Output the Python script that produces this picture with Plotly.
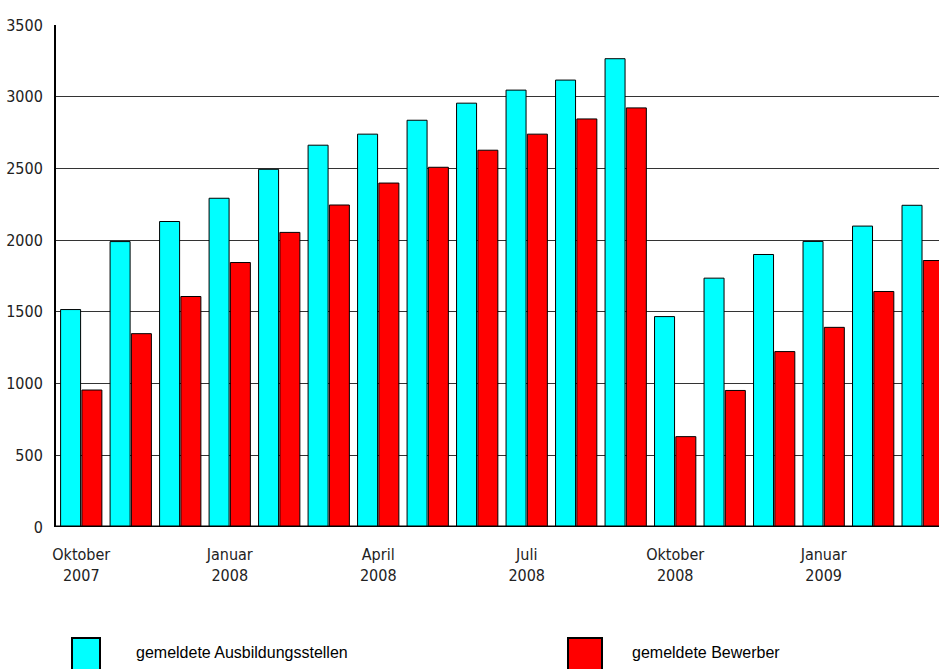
import plotly.graph_objects as go

months = ["Okt 2007", "Nov 2007", "Dez 2007", "Jan 2008", "Feb 2008", "Mär 2008",
          "Apr 2008", "Mai 2008", "Jun 2008", "Jul 2008", "Aug 2008", "Sep 2008",
          "Okt 2008", "Nov 2008", "Dez 2008", "Jan 2009", "Feb 2009", "Mär 2009"]
stellen = [1516, 1990, 2130, 2292, 2494, 2662, 2739, 2836, 2955, 3046, 3116, 3265,
           1467, 1735, 1900, 1991, 2098, 2243]
bewerber = [955, 1348, 1607, 1844, 2054, 2245, 2398, 2508, 2627, 2739, 2845, 2922,
            630, 952, 1223, 1392, 1642, 1858]
tick_idx = [0, 3, 6, 9, 12, 15]
tick_text = ["Oktober<br>2007", "Januar<br>2008", "April<br>2008", "Juli<br>2008",
             "Oktober<br>2008", "Januar<br>2009"]
name_stellen = "gemeldete Ausbildungsstellen"
name_bewerber = "gemeldete Bewerber"

x = list(range(len(months)))
narrow = "Liberation Sans Narrow, DejaVu Sans Condensed, Arial Narrow, sans-serif"

fig = go.Figure()
fig.add_trace(go.Bar(x=x, y=stellen, name=name_stellen, hovertext=months,
                     marker=dict(color="#00FFFF", line=dict(color="black", width=1))))
fig.add_trace(go.Bar(x=x, y=bewerber, name=name_bewerber, hovertext=months,
                     marker=dict(color="#FF0000", line=dict(color="black", width=1))))

W, H = 939, 669
L, R, T, B = 56, 0, 25, 142
pw = W - L - R
ph = H - T - B

fig.update_layout(
    width=W, height=H,
    margin=dict(l=L, r=R, t=T, b=B),
    paper_bgcolor="white", plot_bgcolor="white",
    barmode="group", bargap=0.14, bargroupgap=0.06,
    showlegend=False,
    font=dict(family=narrow, size=16, color="black"),
    xaxis=dict(range=[-0.51, 17.33], tickmode="array", tickvals=tick_idx,
               ticktext=tick_text, showgrid=False, zeroline=False,
               showline=False, ticks="outside", ticklen=13, tickcolor="white",
               tickfont=dict(family=narrow, size=16, color="#222222")),
    yaxis=dict(range=[0, 3500], dtick=500, showgrid=True, gridcolor="#333333",
               gridwidth=1, zeroline=False, showline=True, linecolor="black",
               linewidth=2, ticks="outside", ticklen=8, tickcolor="white",
               tickfont=dict(family=narrow, size=16, color="#222222")),
)
# bottom axis line
fig.add_shape(type="line", xref="paper", yref="y", x0=0, x1=1, y0=0, y1=0,
              line=dict(color="black", width=3))

# custom legend
fig.add_shape(type="rect", xref="paper", yref="paper",
              x0=(72 - L) / pw, x1=(100 - L) / pw, y0=(H - B - 680) / ph, y1=(H - B - 638) / ph,
              fillcolor="#00FFFF", line=dict(color="black", width=2))
fig.add_shape(type="rect", xref="paper", yref="paper",
              x0=(568 - L) / pw, x1=(602 - L) / pw, y0=(H - B - 680) / ph, y1=(H - B - 638) / ph,
              fillcolor="#FF0000", line=dict(color="black", width=2))
fig.add_annotation(xref="paper", yref="paper", x=(134 - L) / pw, y=(H - B - 652) / ph,
                   text=name_stellen, showarrow=False, xanchor="left", yanchor="middle",
                   font=dict(family="Liberation Sans, Arial, sans-serif", size=16))
fig.add_annotation(xref="paper", yref="paper", x=(630 - L) / pw, y=(H - B - 652) / ph,
                   text=name_bewerber, showarrow=False, xanchor="left", yanchor="middle",
                   font=dict(family="Liberation Sans, Arial, sans-serif", size=16))

fig.write_html("out.html", config={"displayModeBar": False},
               post_script="document.body.style.margin='0';document.body.style.overflow='hidden';")
